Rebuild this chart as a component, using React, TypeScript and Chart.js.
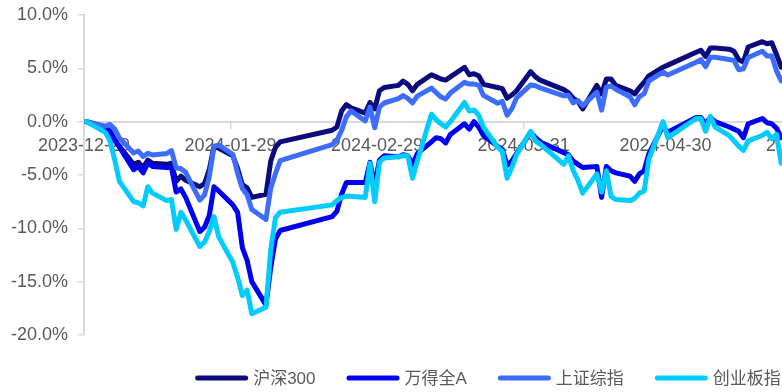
import React, { useEffect, useRef } from 'react';
import { Chart, registerables } from 'chart.js';

Chart.register(...registerables);

// Trading days, 2023-12-29 .. 2024-05-24
const tradeDates = [
  '2023-12-29',
  '2024-01-02', '2024-01-03', '2024-01-04', '2024-01-05',
  '2024-01-08', '2024-01-09', '2024-01-10', '2024-01-11', '2024-01-12',
  '2024-01-15', '2024-01-16', '2024-01-17', '2024-01-18', '2024-01-19',
  '2024-01-22', '2024-01-23', '2024-01-24', '2024-01-25', '2024-01-26',
  '2024-01-29', '2024-01-30', '2024-01-31', '2024-02-01', '2024-02-02',
  '2024-02-05', '2024-02-06', '2024-02-07', '2024-02-08',
  '2024-02-19', '2024-02-20', '2024-02-21', '2024-02-22', '2024-02-23',
  '2024-02-26', '2024-02-27', '2024-02-28', '2024-02-29', '2024-03-01',
  '2024-03-04', '2024-03-05', '2024-03-06', '2024-03-07', '2024-03-08',
  '2024-03-11', '2024-03-12', '2024-03-13', '2024-03-14', '2024-03-15',
  '2024-03-18', '2024-03-19', '2024-03-20', '2024-03-21', '2024-03-22',
  '2024-03-25', '2024-03-26', '2024-03-27', '2024-03-28', '2024-03-29',
  '2024-04-01', '2024-04-02', '2024-04-03',
  '2024-04-08', '2024-04-09', '2024-04-10', '2024-04-11', '2024-04-12',
  '2024-04-15', '2024-04-16', '2024-04-17', '2024-04-18', '2024-04-19',
  '2024-04-22', '2024-04-23', '2024-04-24', '2024-04-25', '2024-04-26',
  '2024-04-29', '2024-04-30',
  '2024-05-06', '2024-05-07', '2024-05-08', '2024-05-09', '2024-05-10',
  '2024-05-13', '2024-05-14', '2024-05-15', '2024-05-16', '2024-05-17',
  '2024-05-20', '2024-05-21', '2024-05-22', '2024-05-23', '2024-05-24',
];

// Cumulative return since 2023-12-29, in percent
const hs300 = [
  0,
  -0.6, -0.9, -1.8, -2.3,
  -4.0, -3.8, -4.3, -3.6, -3.9,
  -4.0, -3.9, -5.6, -5.1, -5.5,
  -6.1, -5.8, -4.5, -2.3, -2.5,
  -3.2, -4.4, -5.9, -6.2, -7.1,
  -6.8, -3.7, -2.4, -1.9,
  -0.8, -0.5, 1.0, 1.6, 1.3,
  0.8, 1.8, 1.2, 2.9, 3.2,
  3.4, 3.8, 3.5, 2.9, 3.5,
  4.4, 4.2, 4.0, 3.9, 4.2,
  5.1, 4.4, 4.5, 4.3, 3.5,
  3.2, 3.1, 2.2, 2.5, 2.9,
  4.7, 4.2, 3.9,
  3.0, 2.7, 2.2, 1.9, 1.2,
  3.4, 2.6, 4.0, 4.0, 3.4,
  2.9, 2.6, 3.2, 3.7, 4.3,
  5.1, 5.3,
  6.5, 6.7, 6.1, 6.9, 6.9,
  6.8, 6.6, 5.8, 5.6, 7.0,
  7.5, 7.3, 7.4, 6.3, 5.1,
];

const windA = [
  0,
  -0.5, -0.9, -1.7, -2.4,
  -4.5, -4.2, -4.8, -3.9, -4.2,
  -4.3, -4.3, -6.6, -6.3, -7.1,
  -10.3, -9.9, -8.8, -6.1, -6.5,
  -7.8, -8.5, -11.8, -13.0, -15.0,
  -17.2, -13.7, -11.0, -10.2,
  -8.9, -8.4, -6.8, -5.7, -5.7,
  -5.7, -3.8, -6.0, -3.6, -3.2,
  -3.3, -3.1, -3.2, -4.0, -3.0,
  -1.9, -1.5, -1.6, -2.0, -1.2,
  -0.2, -0.7, 0.0, -0.5, -1.3,
  -2.3, -2.6, -4.1, -3.7, -3.0,
  -1.0, -1.5, -1.9,
  -2.9, -3.1, -3.7, -4.0, -4.3,
  -4.2, -7.1, -4.2, -4.6, -4.8,
  -5.1, -5.6, -4.9, -4.6, -3.0,
  -0.4, -1.0,
  0.4, 0.4, -0.2, 0.4, 0.0,
  -0.5, -0.7, -0.9, -1.5, -0.2,
  0.3, -0.1, -0.2, -0.6, -1.5,
];

const sse = [
  0,
  -0.43, -0.26, -0.69, -1.54,
  -2.94, -2.75, -3.27, -2.97, -3.12,
  -2.98, -2.72, -4.34, -4.4, -4.75,
  -7.35, -6.86, -5.18, -2.31, -2.18,
  -3.08, -4.85, -6.27, -6.86, -8.23,
  -9.17, -6.23, -4.88, -3.66,
  -2.16, -1.75, -0.81, 0.45, 1.01,
  0.07, 1.36, -0.57, 1.35, 1.75,
  2.16, 2.45, 2.18, 1.76, 2.39,
  3.14, 2.72, 2.32, 2.13, 2.68,
  3.7, 3.52, 3.52, 3.43, 2.46,
  1.73, 1.9, 0.61, 1.2, 2.23,
  3.44, 3.36, 3.17,
  2.42, 2.47, 1.76, 1.99, 1.5,
  2.77, 1.08, 3.24, 3.34, 3.04,
  2.34, 1.58, 2.35, 2.62, 3.82,
  4.64, 4.37,
  5.57, 5.81, 5.16, 6.03, 6.04,
  5.82, 5.74, 4.87, 4.96, 6.02,
  6.6, 6.15, 6.17, 4.76, 3.83,
];

const chinext = [
  0,
  -1.0, -1.8, -3.6, -5.6,
  -7.5, -7.6, -7.9, -6.1, -6.7,
  -7.4, -7.3, -10.1, -8.5, -9.2,
  -11.7, -11.3, -10.3, -8.9, -10.8,
  -13.2, -14.6, -16.3, -15.8, -18.0,
  -17.4, -12.0, -9.0, -8.5,
  -7.8, -7.4, -7.1, -7.0, -7.0,
  -7.1, -3.9, -7.5, -3.8, -3.4,
  -3.3, -3.2, -3.2, -5.3, -3.7,
  0.7, 0.2, -0.2, -0.5, 0.0,
  1.8, 1.0, 1.1, 0.6, -0.5,
  -2.4, -2.8, -5.3, -4.3, -3.1,
  -0.9, -1.8, -2.1,
  -4.0, -3.2, -4.6, -5.5, -6.7,
  -4.9, -6.6, -4.6, -7.0, -7.3,
  -7.4, -7.2, -6.7, -6.5, -3.5,
  0.0, -1.5,
  0.3, 0.3, -0.9, 0.5, -0.5,
  -1.3, -1.8, -2.3, -2.7, -1.8,
  -1.3, -1.0, -1.6, -1.2, -3.9,
];

const seriesNames = ['沪深300', '万得全A', '上证综指', '创业板指'];
const seriesValues = [hs300, windA, sse, chinext];
const seriesColors = ['#0B0B7E', '#0000F2', '#3D6DFF', '#00CCFF'];

const xTickDates = ['2023-12-29', '2024-01-29', '2024-02-29', '2024-03-31', '2024-04-30', '2024-05-31'];
const yMin = -20;
const yMax = 10;
const yStep = 5;

const DAY_MS = 86400000;
const baseTime = Date.parse(tradeDates[0]);
const dayOffset = (d: string) => Math.round((Date.parse(d) - baseTime) / DAY_MS);

const TEXT_COLOR = '#595959';
const AXIS_COLOR = '#D9D9D9';
const TICK_FONT = { family: '"Liberation Sans", Arial, sans-serif', size: 18 };
const LEGEND_FONT = '17px "Liberation Sans", "Noto Sans CJK SC", sans-serif';

// Bottom legend: a short rounded line followed by the series name
const lineLegend = {
  id: 'lineLegend',
  afterDraw(chart: any) {
    const ctx = chart.ctx as CanvasRenderingContext2D;
    const centerX = 488;
    const y = 378;
    const lineLen = 53;
    const gap = 5;
    const spacing = 31;
    ctx.save();
    ctx.font = LEGEND_FONT;
    const widths = seriesNames.map((n) => ctx.measureText(n).width);
    const total =
      widths.reduce((s, w) => s + lineLen + gap + w, 0) + spacing * (seriesNames.length - 1);
    let x = centerX - total / 2;
    ctx.textBaseline = 'middle';
    ctx.textAlign = 'left';
    seriesNames.forEach((name, i) => {
      ctx.strokeStyle = seriesColors[i];
      ctx.lineWidth = 5;
      ctx.lineCap = 'round';
      ctx.beginPath();
      ctx.moveTo(x + 2.5, y);
      ctx.lineTo(x + lineLen - 2.5, y);
      ctx.stroke();
      ctx.fillStyle = TEXT_COLOR;
      ctx.fillText(name, x + lineLen + gap, y + 1);
      x += lineLen + gap + widths[i] + spacing;
    });
    ctx.restore();
  },
};

function ReturnsChart() {
  const canvasRef = useRef<HTMLCanvasElement | null>(null);

  useEffect(() => {
    const canvas = canvasRef.current;
    if (!canvas) return;

    const PX_LEFT = 84;
    const PX_PER_DAY = 4.727;
    const canvasWidth = 880;
    const plotRight = canvasWidth - 10;
    const xMax = (plotRight - PX_LEFT) / PX_PER_DAY;

    const datasets = seriesNames.map((name, i) => ({
      label: name,
      data: tradeDates.map((d, j) => ({ x: dayOffset(d) + 0.5, y: seriesValues[i][j] })),
      borderColor: seriesColors[i],
      backgroundColor: seriesColors[i],
      borderWidth: 5,
      borderJoinStyle: 'round' as const,
      borderCapStyle: 'round' as const,
      pointRadius: 0,
      tension: 0,
      fill: false,
      order: seriesNames.length - i,
    }));

    const xTickValues = xTickDates.map(dayOffset);

    const chart = new Chart(canvas, {
      type: 'line',
      data: { datasets },
      options: {
        animation: false,
        responsive: false,
        maintainAspectRatio: false,
        layout: { padding: { left: 0, right: 10, top: 15, bottom: 57 } },
        plugins: {
          legend: { display: false },
          tooltip: { enabled: false },
        },
        scales: {
          x: {
            type: 'linear',
            position: { y: 0 },
            min: 0,
            max: xMax,
            afterFit: (scale: any) => {
              scale.height = 0;
              scale.paddingTop = 0;
              scale.paddingBottom = 0;
            },
            afterBuildTicks: (scale: any) => {
              scale.ticks = xTickValues.map((v) => ({ value: v }));
            },
            ticks: {
              autoSkip: false,
              maxRotation: 0,
              minRotation: 0,
              padding: 8,
              color: TEXT_COLOR,
              font: TICK_FONT,
              callback: (value: any) => {
                const idx = xTickValues.indexOf(Number(value));
                return idx >= 0 ? xTickDates[idx] : '';
              },
            },
            grid: {
              drawOnChartArea: false,
              drawTicks: true,
              tickLength: 6,
              color: AXIS_COLOR,
              lineWidth: 1.5,
            },
            border: { display: true, color: AXIS_COLOR, width: 2 },
          },
          y: {
            type: 'linear',
            position: 'left',
            min: yMin,
            max: yMax,
            afterFit: (scale: any) => {
              scale.width = PX_LEFT;
              scale.paddingTop = 0;
              scale.paddingBottom = 0;
            },
            ticks: {
              stepSize: yStep,
              padding: 10,
              color: TEXT_COLOR,
              font: TICK_FONT,
              callback: (value: any) => `${Number(value).toFixed(1)}%`,
            },
            grid: {
              drawOnChartArea: false,
              drawTicks: true,
              tickLength: 6,
              color: AXIS_COLOR,
              lineWidth: 1.5,
            },
            border: { display: true, color: AXIS_COLOR, width: 2 },
          },
        },
      },
      plugins: [lineLegend],
    });

    return () => chart.destroy();
  }, []);

  return (
    <div
      style={{
        position: 'absolute',
        left: 0,
        top: 0,
        width: 782,
        height: 392,
        overflow: 'hidden',
        background: '#FFFFFF',
      }}
    >
      <canvas ref={canvasRef} width={880} height={392} style={{ width: 880, height: 392, display: 'block' }} />
    </div>
  );
}

export default function App() {
  return <ReturnsChart />;
}
